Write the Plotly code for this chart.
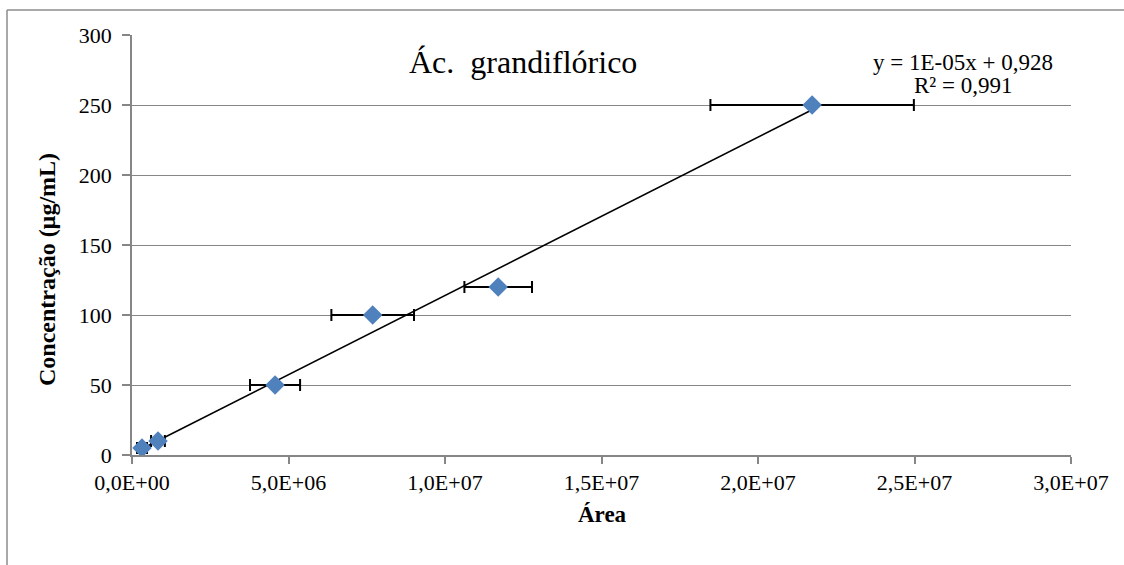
import numpy as np
import plotly.graph_objects as go

# Calibration data: peak area vs. concentration
area = [0.32e6, 0.83e6, 4.57e6, 7.69e6, 11.70e6, 21.73e6]
conc = [5, 10, 50, 100, 120, 250]
area_err = [0.16e6, 0.22e6, 0.80e6, 1.32e6, 1.08e6, 3.25e6]

x_ticks = [0, 5e6, 10e6, 15e6, 20e6, 25e6, 30e6]
x_tick_labels = ["0,0E+00", "5,0E+06", "1,0E+07", "1,5E+07", "2,0E+07", "2,5E+07", "3,0E+07"]
y_ticks = [0, 50, 100, 150, 200, 250, 300]

# Linear least-squares trendline over the data range
slope, intercept = np.polyfit(area, conc, 1)
fit_x = np.array([min(area), max(area)])
fit_y = slope * fit_x + intercept

FONT = "Liberation Serif, Times New Roman, serif"
GRID = "#868686"
TICK_SIZE = 22

fig = go.Figure()
fig.add_trace(go.Scatter(
    x=fit_x, y=fit_y, mode="lines",
    line=dict(color="black", width=1.6),
    hoverinfo="skip", showlegend=False,
))
fig.add_trace(go.Scatter(
    x=area, y=conc, mode="markers",
    marker=dict(symbol="diamond", size=15, color="#4F81BD", line=dict(width=0)),
    error_x=dict(type="data", array=area_err, visible=True,
                 color="black", thickness=2, width=6),
    showlegend=False,
))

L, R, T, B = 132, 53, 35, 110
W, H = 1124, 565
pw, ph = W - L - R, H - T - B

def px(xp):
    return (xp - L) / pw

def py(yp):
    return (H - B - yp) / ph

border = dict(color="#8c8c8c", width=1.5)

fig.update_layout(
    width=W, height=H,
    margin=dict(l=L, r=R, t=T, b=B),
    paper_bgcolor="white", plot_bgcolor="white",
    font=dict(family=FONT, size=TICK_SIZE, color="black"),
    xaxis=dict(
        range=[0, 30e6], tickvals=x_ticks, ticktext=x_tick_labels,
        showgrid=False, zeroline=False,
        showline=True, linecolor=GRID, linewidth=1.5,
        ticks="outside", ticklen=7, tickcolor=GRID, tickwidth=1.5,
        tickfont=dict(family=FONT, size=TICK_SIZE, color="black"),
    ),
    yaxis=dict(
        range=[0, 300], tickvals=y_ticks,
        showgrid=True, gridcolor=GRID, gridwidth=1.2, zeroline=False,
        showline=True, linecolor=GRID, linewidth=1.5,
        ticks="outside", ticklen=8, tickcolor=GRID, tickwidth=1.5,
        ticklabelstandoff=6,
        tickfont=dict(family=FONT, size=TICK_SIZE, color="black"),
    ),
    shapes=[
        dict(type="line", xref="paper", yref="paper",
             x0=px(7), x1=px(7), y0=py(10), y1=py(570), line=border),
        dict(type="line", xref="paper", yref="paper",
             x0=px(7), x1=px(1130), y0=py(10), y1=py(10), line=border),
    ],
    annotations=[
        dict(text="Ác.\u00a0 grandiflórico", xref="paper", yref="paper",
             x=px(523), y=py(62), xanchor="center", yanchor="middle",
             showarrow=False, font=dict(family=FONT, size=32, color="black")),
        dict(text="y = 1E-05x + 0,928", xref="paper", yref="paper",
             x=px(963), y=py(62), xanchor="center", yanchor="middle",
             showarrow=False, font=dict(family=FONT, size=23, color="black")),
        dict(text="R² = 0,991", xref="paper", yref="paper",
             x=px(963), y=py(85), xanchor="center", yanchor="middle",
             showarrow=False, font=dict(family=FONT, size=23, color="black")),
        dict(text="<b>Concentração (µg/mL)</b>", xref="paper", yref="paper",
             x=px(47), y=py(270), xanchor="center", yanchor="middle",
             showarrow=False, textangle=-90,
             font=dict(family=FONT, size=24, color="black")),
        dict(text="<b>Área</b>", xref="paper", yref="paper",
             x=px(602), y=py(514), xanchor="center", yanchor="middle",
             showarrow=False, font=dict(family=FONT, size=23, color="black")),
    ],
)

fig.write_html("out.html")
